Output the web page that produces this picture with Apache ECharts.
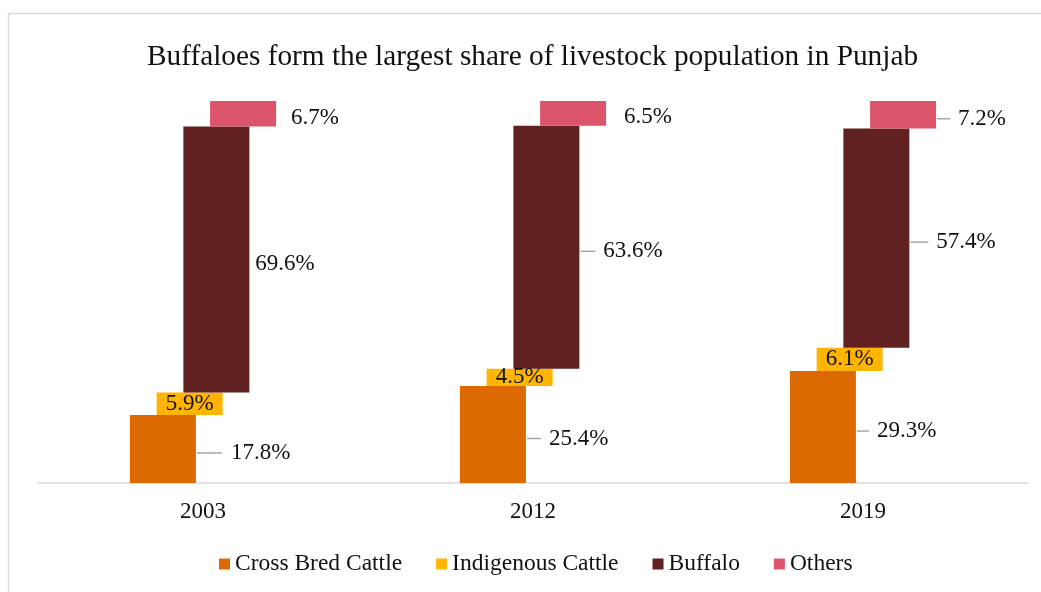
<!DOCTYPE html>
<html>
<head>
<meta charset="utf-8">
<script src="https://cdn.jsdelivr.net/npm/echarts@6/dist/echarts.min.js"></script>
<style>
  html, body { margin: 0; padding: 0; background: #ffffff; }
  #chart { width: 1041px; height: 592px; }
</style>
</head>
<body>
<div id="chart"></div>
<script>
// ---- Data ----
const categories = ['2003', '2012', '2019'];
const crossBred  = [17.8, 25.4, 29.3];
const indigenous = [5.9, 4.5, 6.1];
const buffalo    = [69.6, 63.6, 57.4];
const others     = [6.7, 6.5, 7.2];
const seriesNames = ['Cross Bred Cattle', 'Indigenous Cattle', 'Buffalo', 'Others'];

// ---- Styles ----
const colors = ['#DD6A00', '#FFB400', '#622121', '#DC546A'];
const FONT = 'Liberation Serif, Times New Roman, serif';
const TXT = '#111111';
// leader line length / gap between line and text / distance from bar (style only)
const crossLead = [{len: 25, gap: 9, dist: 1}, {len: 14, gap: 8, dist: 1}, {len: 12, gap: 8, dist: 1}];
const buffLead  = [{len: 0, gap: 0, dist: 6}, {len: 15, gap: 8, dist: 1}, {len: 18, gap: 8, dist: 1}];
const othLead   = [{len: 0, gap: 0, dist: 15}, {len: 0, gap: 0, dist: 18}, {len: 13, gap: 8, dist: 1}];

function leaderData(values, leads) {
  return values.map((v, i) => {
    const L = leads[i];
    const txt = v.toFixed(1) + '%';
    return {
      value: v,
      label: {
        show: true,
        position: 'right',
        distance: L.dist,
        offset: [0, 4],
        formatter: L.len > 0 ? '{ln| }{sp| }{v|' + txt + '}' : '{v|' + txt + '}',
        rich: {
          ln: { width: L.len, height: 1.5, backgroundColor: '#A6A6A6', fontSize: 1, lineHeight: 1.5 },
          sp: { width: L.gap, fontSize: 1 },
          v: { fontFamily: FONT, fontSize: 23, color: TXT }
        }
      }
    };
  });
}

const base1 = crossBred.slice();
const base2 = crossBred.map((v, i) => v + indigenous[i]);
const base3 = crossBred.map((v, i) => v + indigenous[i] + buffalo[i]);

const hidden = { color: 'transparent', borderColor: 'transparent' };
const BW = 66;
const GAP = '-59.5%';

const option = {
  backgroundColor: '#ffffff',
  animation: false,
  title: {
    text: 'Buffaloes form the largest share of livestock population in Punjab',
    left: 147,
    top: 43,
    padding: 0,
    textStyle: { fontFamily: FONT, fontSize: 29.3, fontWeight: 'normal', color: TXT }
  },
  legend: {
    data: seriesNames,
    left: 214,
    top: 547,
    icon: 'rect',
    itemWidth: 11,
    itemHeight: 11,
    itemGap: 34,
    textStyle: { fontFamily: FONT, fontSize: 23.5, color: TXT }
  },
  grid: { left: 38, right: 13, top: 101, bottom: 109, containLabel: false },
  xAxis: {
    type: 'category',
    data: categories,
    axisLine: { lineStyle: { color: '#D9D9D9', width: 1.5 } },
    axisTick: { show: false },
    axisLabel: { fontFamily: FONT, fontSize: 23, color: TXT, margin: 17 }
  },
  yAxis: {
    type: 'value',
    min: 0,
    max: 100,
    show: false,
    splitLine: { show: false }
  },
  graphic: [{
    type: 'rect',
    shape: { x: 8.5, y: 13.5, width: 1100, height: 700 },
    style: { fill: 'none', stroke: '#D9D9D9', lineWidth: 1.5 },
    silent: true,
    z: -10
  }],
  series: [
    {
      name: seriesNames[0], type: 'bar', stack: 's0', barWidth: BW, barGap: GAP,
      itemStyle: { color: colors[0] },
      data: leaderData(crossBred, crossLead)
    },
    {
      name: '_b1', type: 'bar', stack: 's1', barWidth: BW, barGap: GAP,
      itemStyle: hidden, silent: true, data: base1
    },
    {
      name: seriesNames[1], type: 'bar', stack: 's1', barWidth: BW, barGap: GAP,
      itemStyle: { color: colors[1] },
      label: {
        show: true, position: 'inside', fontFamily: FONT, fontSize: 23, color: TXT,
        formatter: p => p.value.toFixed(1) + '%'
      },
      data: indigenous
    },
    {
      name: '_b2', type: 'bar', stack: 's2', barWidth: BW, barGap: GAP,
      itemStyle: hidden, silent: true, data: base2
    },
    {
      name: seriesNames[2], type: 'bar', stack: 's2', barWidth: BW, barGap: GAP,
      itemStyle: { color: colors[2] },
      data: leaderData(buffalo, buffLead)
    },
    {
      name: '_b3', type: 'bar', stack: 's3', barWidth: BW, barGap: GAP,
      itemStyle: hidden, silent: true, data: base3
    },
    {
      name: seriesNames[3], type: 'bar', stack: 's3', barWidth: BW, barGap: GAP,
      itemStyle: { color: colors[3] },
      data: leaderData(others, othLead)
    }
  ]
};

const chart = echarts.init(document.getElementById('chart'), null, { renderer: 'canvas' });
chart.setOption(option);
</script>
</body>
</html>
